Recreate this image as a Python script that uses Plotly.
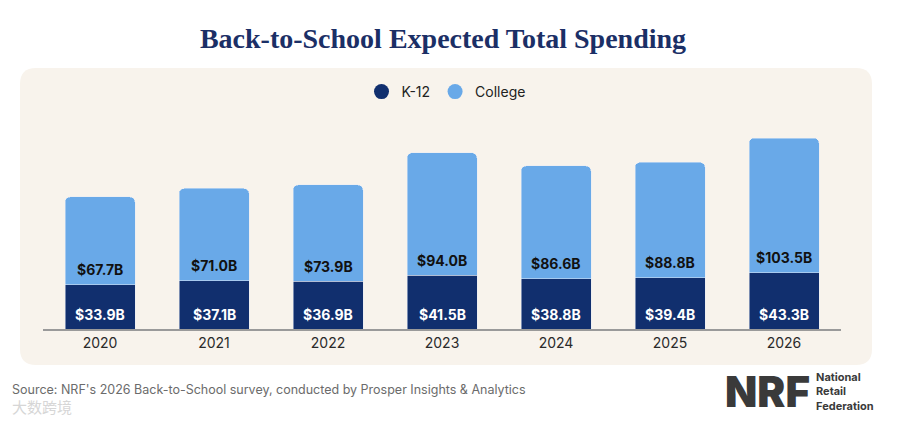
import plotly.graph_objects as go

# data
years = ["2020", "2021", "2022", "2023", "2024", "2025", "2026"]
k12 = [33.9, 37.1, 36.9, 41.5, 38.8, 39.4, 43.3]
college = [67.7, 71.0, 73.9, 94.0, 86.6, 88.8, 103.5]

NAVY = "#112f6e"
LIGHT = "#69a9e8"
PANEL = "#f8f3ec"

# page has an 8px body margin, so the figure is drawn 8px in from the corner
OFF = 8
W, H = 900 - 2 * OFF, 424 - 2 * OFF
L, R, T, B = 43 - OFF, 59 - OFF, 110 - OFF, 95 - OFF
pw, ph = W - L - R, H - T - B


def px_x(v):
    return (v - OFF - L) / pw


def px_y(v):
    return (H - B - (v - OFF)) / ph


fig = go.Figure()
fig.add_trace(go.Bar(x=years, y=k12, marker_color=NAVY, showlegend=False,
                     hoverinfo="y"))
fig.add_trace(go.Bar(x=years, y=college, marker_color=LIGHT, showlegend=False,
                     hoverinfo="y"))

# legend entries with round markers
fig.add_trace(go.Scatter(x=[None], y=[None], mode="markers", name="K-12",
                         marker=dict(color=NAVY, size=15, symbol="circle")))
fig.add_trace(go.Scatter(x=[None], y=[None], mode="markers", name="College",
                         marker=dict(color=LIGHT, size=15, symbol="circle")))

annos = []
for i, yr in enumerate(years):
    annos.append(dict(xref="x", yref="y", x=i, y=0,
                      text="&#36;%.1fB" % k12[i], showarrow=False,
                      yanchor="middle", yshift=15,
                      font=dict(family="Inter", size=14, color="white", weight="bold")))
    annos.append(dict(xref="x", yref="y", x=i, y=k12[i],
                      text="&#36;%.1fB" % college[i], showarrow=False,
                      yanchor="middle", yshift=15,
                      font=dict(family="Inter", size=14, color="#111111", weight="bold")))

# source line and logo
annos.append(dict(xref="paper", yref="paper", x=px_x(10), y=px_y(389),
                  xanchor="left", yanchor="middle", showarrow=False,
                  text="Source: NRF's 2026 Back-to-School survey, conducted by Prosper Insights & Analytics",
                  font=dict(family="Inter", size=12.5, color="#6b6b6b")))
annos.append(dict(xref="paper", yref="paper", x=px_x(723), y=px_y(391),
                  xanchor="left", yanchor="middle", showarrow=False, text="NRF",
                  font=dict(family="Inter", size=42, color="#3a3a3a", weight=900)))
annos.append(dict(xref="paper", yref="paper", x=px_x(814), y=px_y(391),
                  xanchor="left", yanchor="middle", showarrow=False, align="left",
                  text="National<br>Retail<br>Federation",
                  font=dict(family="Inter", size=11, color="#3a3a3a", weight="bold")))
annos.append(dict(xref="paper", yref="paper", x=px_x(10), y=px_y(406),
                  xanchor="left", yanchor="middle", showarrow=False, text="大数跨境",
                  font=dict(family="Noto Sans CJK SC", size=15, color="#d6d6d6")))

# rounded beige panel behind the chart
x0, x1, y0, y1 = px_x(20), px_x(872), px_y(365), px_y(68)
rx, ry = 16 / pw, 16 / ph
panel_path = (
    f"M {x0 + rx},{y1} L {x1 - rx},{y1} Q {x1},{y1} {x1},{y1 - ry} "
    f"L {x1},{y0 + ry} Q {x1},{y0} {x1 - rx},{y0} "
    f"L {x0 + rx},{y0} Q {x0},{y0} {x0},{y0 + ry} "
    f"L {x0},{y1 - ry} Q {x0},{y1} {x0 + rx},{y1} Z"
)

fig.update_layout(
    width=W, height=H,
    margin=dict(l=L, r=R, t=T, b=B),
    barmode="stack",
    bargap=1 - 70 / 114,
    barcornerradius=5,
    paper_bgcolor="white",
    plot_bgcolor="rgba(0,0,0,0)",
    title=dict(text="<b>Back-to-School Expected Total Spending</b>",
               x=(443 - OFF) / W, xanchor="center", y=1 - (38 - OFF) / H,
               yanchor="middle",
               font=dict(family="Liberation Serif", size=28, color="#1b2f66")),
    legend=dict(orientation="h", x=px_x(446), xanchor="center", y=px_y(92),
                yanchor="middle", bgcolor="rgba(0,0,0,0)", traceorder="normal",
                font=dict(family="Inter", size=14, color="#222222")),
    shapes=[dict(type="path", xref="paper", yref="paper", path=panel_path,
                 fillcolor=PANEL, line=dict(width=0), layer="below")],
    annotations=annos,
    xaxis=dict(type="category", range=[-0.5, 6.5], showline=True,
               linecolor="#9a9a9a", linewidth=1.5, showgrid=False, ticks="",
               tickfont=dict(family="Inter", size=14, color="#2a2a2a"),
               fixedrange=True),
    yaxis=dict(range=[0, ph / 1.30], visible=False, showgrid=False, fixedrange=True),
)

fig.write_html("out.html")
